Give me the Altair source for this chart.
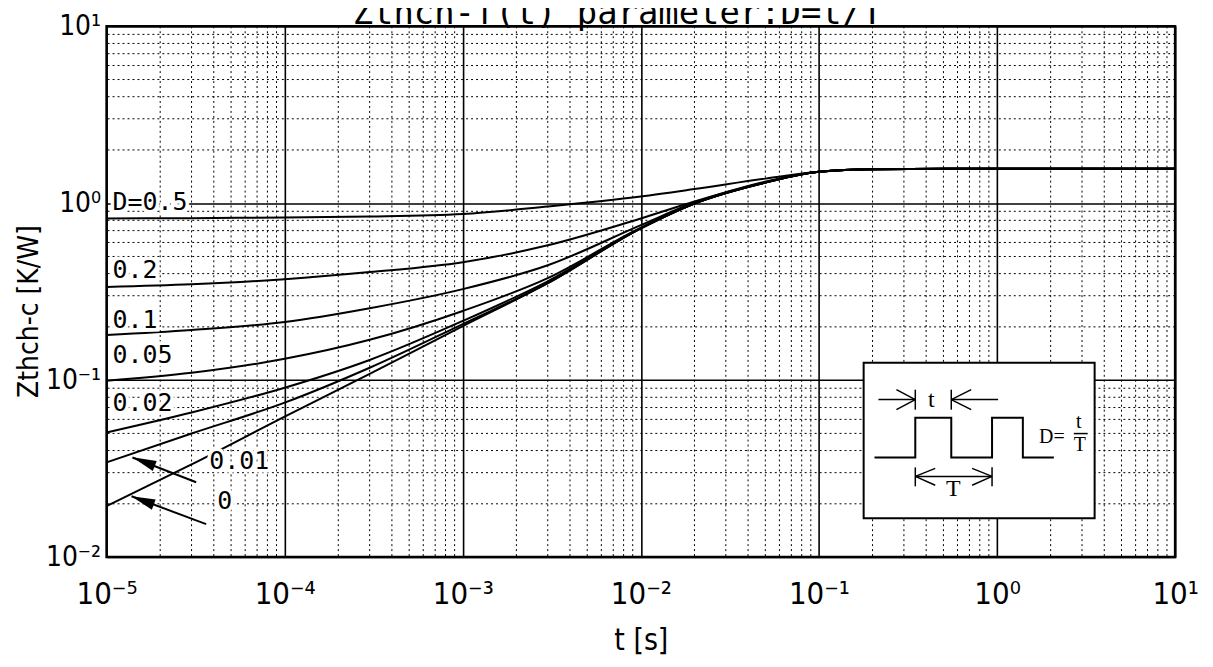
import altair as alt
import pandas as pd

# ---------------- data ----------------
t_s = [1e-5, 3e-5, 1e-4, 3e-4, 1e-3, 3e-3, 1e-2, 2e-2, 5e-2, 1e-1, 2e-1, 1, 10]
z_d05 = [0.820, 0.823, 0.831, 0.841, 0.869, 0.958, 1.091, 1.202, 1.377, 1.506, 1.556, 1.567, 1.567]
z_d02 = [0.336, 0.348, 0.372, 0.408, 0.464, 0.578, 0.820, 1.022, 1.324, 1.506, 1.556, 1.567, 1.567]
z_d01 = [0.180, 0.192, 0.213, 0.255, 0.327, 0.446, 0.752, 1.009, 1.315, 1.506, 1.556, 1.567, 1.567]
z_d005 = [0.0993, 0.110, 0.132, 0.169, 0.246, 0.377, 0.728, 0.996, 1.308, 1.506, 1.556, 1.567, 1.567]
z_d002 = [0.0506, 0.0656, 0.0906, 0.130, 0.216, 0.362, 0.721, 0.996, 1.308, 1.506, 1.556, 1.567, 1.567]
z_d001 = [0.0343, 0.0499, 0.0746, 0.1175, 0.2075, 0.353, 0.721, 0.996, 1.308, 1.506, 1.556, 1.567, 1.567]
z_d0 = [0.0194, 0.0334, 0.0622, 0.1086, 0.202, 0.353, 0.721, 0.996, 1.308, 1.506, 1.556, 1.567, 1.567]
duty = ["0.5", "0.2", "0.1", "0.05", "0.02", "0.01", "0"]
series = [z_d05, z_d02, z_d01, z_d005, z_d002, z_d001, z_d0]

label_text = ["D=0.5", "0.2", "0.1", "0.05", "0.02", "0.01", "0"]
label_t = [1.08e-5, 1.08e-5, 1.08e-5, 1.08e-5, 1.08e-5, 3.77e-5, 4.18e-5]
label_z = [1.02, 0.418, 0.219, 0.139, 0.0747, 0.0348, 0.0207]

title_text = "Zthch-f(t) parameter:D=t/T"
title_t = 7.4e-3
title_z = 10.26

# annotation arrows (log10 t, log10 Z): tail -> tip
arrow_lt1 = [-4.497, -4.441]
arrow_lz1 = [-1.577, -1.814]
arrow_lt2 = [-4.855, -4.860]
arrow_lz2 = [-1.437, -1.656]
head_lt = [-4.792, -4.798]
head_lz = [-1.461, -1.680]
head_angle = [291.4, 290.5]

major_x = [1e-5, 1e-4, 1e-3, 1e-2, 1e-1, 1, 10]
major_y = [1e-2, 1e-1, 1, 10]
minor_x = [m * 10.0 ** e for e in range(-5, 1) for m in range(2, 10)]
minor_y = [m * 10.0 ** e for e in range(-2, 1) for m in range(2, 10)]

# inset diagram (log10 t, log10 Z)
box_lt = [-0.749, 0.548]
box_lz = [-0.902, -1.780]
wave_lt = [-0.688, -0.459, -0.459, -0.257, -0.257, -0.028, -0.028, 0.145, 0.145, 0.319]
wave_lz = [-1.437, -1.437, -1.212, -1.212, -1.437, -1.437, -1.212, -1.212, -1.437, -1.437]
seg_lt1 = [-0.666, -0.459, -0.459, -0.459, 0.006, -0.257, -0.257, -0.257,
           -0.459, -0.459, -0.459, -0.028, -0.028, -0.459, -0.028, 0.431]
seg_lz1 = [-1.110, -1.110, -1.110, -1.054, -1.110, -1.110, -1.110, -1.054,
           -1.544, -1.544, -1.544, -1.544, -1.544, -1.493, -1.493, -1.302]
seg_lt2 = [-0.459, -0.565, -0.565, -0.459, -0.257, -0.145, -0.145, -0.257,
           -0.028, -0.347, -0.347, -0.140, -0.140, -0.459, -0.028, 0.509]
seg_lz2 = [-1.110, -1.054, -1.167, -1.167, -1.110, -1.054, -1.167, -1.167,
           -1.544, -1.499, -1.594, -1.499, -1.594, -1.600, -1.600, -1.302]
inset_text = ["t", "T", "D=", "t", "T"]
inset_lt = [-0.369, -0.246, 0.308, 0.459, 0.465]
inset_lz = [-1.110, -1.617, -1.324, -1.234, -1.369]
inset_size = [24, 24, 20, 20, 20]

# ---------------- tables ----------------
curve_df = pd.DataFrame(
    [{"D": d, "t": t, "z": z} for d, zs in zip(duty, series) for t, z in zip(t_s, zs)]
)
label_df = pd.DataFrame({"txt": label_text, "t": label_t, "z": label_z})
title_df = pd.DataFrame({"txt": [title_text], "t": [title_t], "z": [title_z]})
arrow_df = pd.DataFrame({
    "t": [10 ** v for v in arrow_lt1], "z": [10 ** v for v in arrow_lz1],
    "t2": [10 ** v for v in arrow_lt2], "z2": [10 ** v for v in arrow_lz2],
})
head_df = pd.DataFrame({"t": [10 ** v for v in head_lt], "z": [10 ** v for v in head_lz],
                        "ang": head_angle})
minor_x_df = pd.DataFrame({"t": minor_x})
minor_y_df = pd.DataFrame({"z": minor_y})
box_df = pd.DataFrame({"t": [10 ** box_lt[0]], "t2": [10 ** box_lt[1]],
                       "z": [10 ** box_lz[0]], "z2": [10 ** box_lz[1]]})
wave_df = pd.DataFrame({"t": [10 ** v for v in wave_lt], "z": [10 ** v for v in wave_lz],
                        "o": list(range(len(wave_lt)))})
seg_df = pd.DataFrame({
    "t": [10 ** v for v in seg_lt1], "z": [10 ** v for v in seg_lz1],
    "t2": [10 ** v for v in seg_lt2], "z2": [10 ** v for v in seg_lz2],
})
inset_df = pd.DataFrame({"txt": inset_text, "t": [10 ** v for v in inset_lt],
                         "z": [10 ** v for v in inset_lz], "s": inset_size})

# ---------------- styling ----------------
FONT = "DejaVu Sans Condensed, Liberation Sans Narrow, DejaVu Sans"
MONO = "DejaVu Sans Mono"
SERIF = "Liberation Serif"

xs = alt.Scale(type="log", domain=[1e-5, 10], nice=False)
ys = alt.Scale(type="log", domain=[1e-2, 10], nice=False)


def sup_expr():
    e = "round(log(datum.value)/LN10)"
    m = {-5: "10⁻⁵", -4: "10⁻⁴", -3: "10⁻³", -2: "10⁻²", -1: "10⁻¹", 0: "10⁰", 1: "10¹"}
    s = "''"
    for k, v in m.items():
        s = f"({e}=={k})?'{v}':({s})"
    return s


x_axis = alt.Axis(values=major_x, labelExpr=sup_expr(), grid=True, gridColor="black",
                  gridWidth=1.6, gridOpacity=1, ticks=False, domain=False,
                  labelFont=FONT, labelFontSize=31, labelColor="black", labelPadding=23,
                  labelFlush=False, labelOverlap=False, title="t [s]", titleFont=FONT,
                  titleFontSize=30, titleFontWeight="normal", titleColor="black",
                  titleY=84, titleBaseline="middle")
y_axis = alt.Axis(values=major_y, labelExpr=sup_expr(), grid=True, gridColor="black",
                  gridWidth=1.6, gridOpacity=1, ticks=False, domain=False,
                  labelFont=FONT, labelFontSize=28, labelColor="black", labelPadding=6,
                  labelFlush=False, labelOverlap=False, title="Zthch-c [K/W]",
                  titleFont=FONT, titleFontSize=28, titleFontWeight="normal",
                  titleColor="black", titleX=-77, titleY=286, titleBaseline="middle",
                  titleAlign="center", titleAngle=270)


def X():
    return alt.X("t", type="quantitative", scale=xs, axis=x_axis)


def Y():
    return alt.Y("z", type="quantitative", scale=ys, axis=y_axis)


curves = alt.Chart(curve_df).mark_line(color="black", strokeWidth=2,
                                       interpolate="monotone").encode(
    x=X(), y=Y(), detail="D:N")
minor_v = alt.Chart(minor_x_df).mark_rule(color="black", strokeWidth=1,
                                          strokeDash=[2, 3]).encode(x=X())
minor_h = alt.Chart(minor_y_df).mark_rule(color="black", strokeWidth=1,
                                          strokeDash=[2, 3]).encode(y=Y())

box = alt.Chart(box_df).mark_rect(fill="white", stroke="black", strokeWidth=2).encode(
    x=X(), x2="t2", y=Y(), y2="z2")
wave = alt.Chart(wave_df).mark_line(color="black", strokeWidth=2).encode(
    x=X(), y=Y(), order="o:Q")
segs = alt.Chart(seg_df).mark_rule(color="black", strokeWidth=1.5).encode(
    x=X(), x2="t2", y=Y(), y2="z2")
inset_txt = alt.Chart(inset_df).mark_text(font=SERIF, color="black", align="center",
                                          baseline="middle").encode(
    x=X(), y=Y(), text="txt:N", size=alt.Size("s:Q", scale=None, legend=None))

halo = alt.Chart(label_df).mark_text(font=MONO, fontSize=25, align="left",
                                     baseline="middle", stroke="white", strokeWidth=7,
                                     fill="white").encode(x=X(), y=Y(), text="txt:N")
labels = alt.Chart(label_df).mark_text(font=MONO, fontSize=25, align="left",
                                       baseline="middle", color="black").encode(
    x=X(), y=Y(), text="txt:N")

shafts = alt.Chart(arrow_df).mark_rule(color="black", strokeWidth=2).encode(
    x=X(), x2="t2", y=Y(), y2="z2")
heads = alt.Chart(head_df).mark_point(shape="M0,-1L0.45,1L-0.45,1Z", filled=True,
                                      color="black", size=576, opacity=1).encode(
    x=X(), y=Y(), angle=alt.Angle("ang:Q", scale=None))

title = alt.Chart(title_df).mark_text(font=MONO, fontSize=34, align="center",
                                      baseline="alphabetic", color="black").encode(
    x=X(), y=Y(), text="txt:N")

chart = alt.layer(
    curves, minor_v, minor_h, box, wave, segs, inset_txt, halo, labels, shafts, heads, title
).properties(
    width=1073, height=533,
    autosize=alt.AutoSizeParams(type="none"),
    padding={"left": 99, "top": 17, "right": 30, "bottom": 100},
).configure_view(stroke="black", strokeWidth=2.5)

chart.save("out.html", embed_options={"renderer": "svg", "actions": False})
